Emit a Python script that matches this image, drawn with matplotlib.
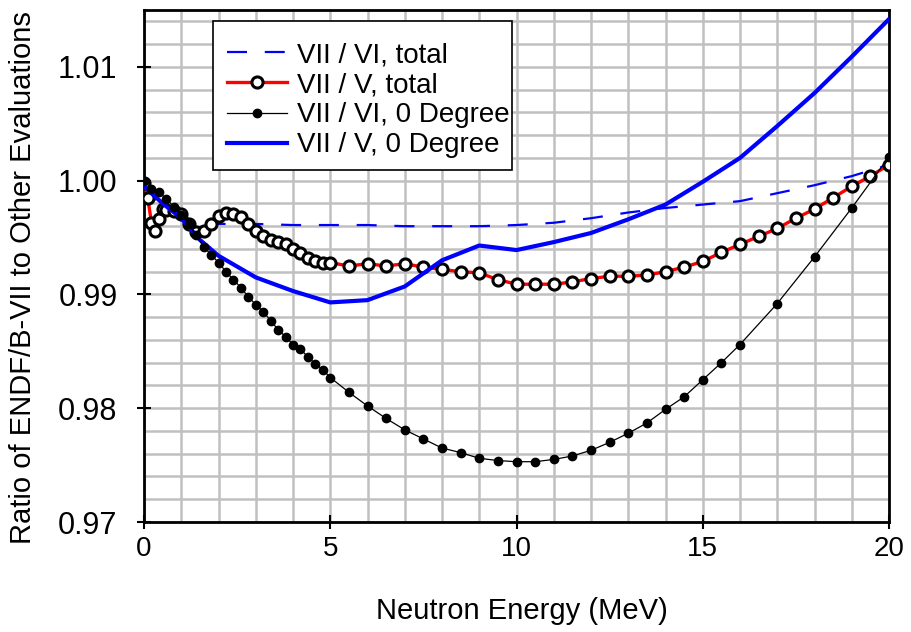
import matplotlib
matplotlib.use("Agg")
import matplotlib.pyplot as plt
from matplotlib.ticker import MultipleLocator, FormatStrFormatter
from matplotlib.patches import Rectangle

plt.rcParams['font.family'] = ['Liberation Sans', 'DejaVu Sans']

# VII / VI, total (blue dashed)
e_vi_tot = [0, 0.3, 0.6, 1, 1.5, 2, 3, 4, 5, 6, 7, 8, 9, 10, 11, 12, 13, 14, 15, 16, 17, 18, 19, 20]
r_vi_tot = [0.9997, 0.9983, 0.9975, 0.9969, 0.9964, 0.9962, 0.9962, 0.9961, 0.9961, 0.9961, 0.9960,
            0.9960, 0.9960, 0.9961, 0.9963, 0.9967, 0.9972, 0.9976, 0.9979, 0.9982, 0.9989, 0.9996,
            1.0004, 1.0014]

# VII / V, total (red line, open circles)
e_v_tot = [0.0, 0.1, 0.2, 0.3, 0.4, 0.5, 0.6, 0.8, 1.0, 1.2, 1.4, 1.6, 1.8, 2.0, 2.2, 2.4, 2.6, 2.8,
           3.0, 3.2, 3.4, 3.6, 3.8, 4.0, 4.2, 4.4, 4.6, 4.8, 5.0, 5.5, 6.0, 6.5, 7.0, 7.5, 8.0, 8.5,
           9.0, 9.5, 10.0, 10.5, 11.0, 11.5, 12.0, 12.5, 13.0, 13.5, 14.0, 14.5, 15.0, 15.5, 16.0,
           16.5, 17.0, 17.5, 18.0, 18.5, 19.0, 19.5, 20.0]
r_v_tot = [0.9998, 0.9985, 0.9963, 0.9956, 0.9966, 0.9975, 0.9974, 0.9973, 0.9971, 0.9962, 0.9955,
           0.9956, 0.9962, 0.9969, 0.9972, 0.9971, 0.9968, 0.9962, 0.9956, 0.9951, 0.9948, 0.9946,
           0.9944, 0.9940, 0.9936, 0.9932, 0.9929, 0.9928, 0.9928, 0.9925, 0.9927, 0.9925, 0.9927,
           0.9924, 0.9922, 0.9920, 0.9919, 0.9913, 0.9909, 0.9909, 0.9909, 0.9911, 0.9914, 0.9916,
           0.9916, 0.9917, 0.9920, 0.9924, 0.9929, 0.9937, 0.9944, 0.9951, 0.9958, 0.9967, 0.9975,
           0.9985, 0.9995, 1.0004, 1.0014]

# VII / VI, 0 Degree (black line, filled dots)
e_vi_0 = [0.0, 0.2, 0.4, 0.6, 0.8, 1.0, 1.2, 1.4, 1.6, 1.8, 2.0, 2.2, 2.4, 2.6, 2.8, 3.0, 3.2, 3.4,
          3.6, 3.8, 4.0, 4.2, 4.4, 4.6, 4.8, 5.0, 5.5, 6.0, 6.5, 7.0, 7.5, 8.0, 8.5, 9.0, 9.5, 10.0,
          10.5, 11.0, 11.5, 12.0, 12.5, 13.0, 13.5, 14.0, 14.5, 15.0, 15.5, 16.0, 17.0, 18.0, 19.0, 20.0]
r_vi_0 = [1.0000, 0.9993, 0.9990, 0.9984, 0.9977, 0.9970, 0.9962, 0.9952, 0.9942, 0.9935, 0.9928,
          0.9920, 0.9913, 0.9906, 0.9898, 0.9891, 0.9885, 0.9877, 0.9869, 0.9863, 0.9856, 0.9852,
          0.9845, 0.9839, 0.9834, 0.9827, 0.9814, 0.9802, 0.9791, 0.9781, 0.9773, 0.9765, 0.9761,
          0.9756, 0.9754, 0.9753, 0.9753, 0.9755, 0.9758, 0.9763, 0.9770, 0.9778, 0.9787, 0.9799,
          0.9810, 0.9825, 0.9840, 0.9856, 0.9892, 0.9933, 0.9976, 1.0021]

# VII / V, 0 Degree (blue solid)
e_v_0 = [0, 0.5, 1, 1.5, 2, 3, 4, 5, 6, 7, 8, 9, 10, 11, 12, 13, 14, 15, 16, 17, 18, 19, 20]
r_v_0 = [0.9995, 0.9980, 0.9967, 0.9948, 0.9934, 0.9915, 0.9903, 0.9893, 0.9895, 0.9907, 0.9930,
         0.9943, 0.9939, 0.9946, 0.9954, 0.9966, 0.9979, 0.9999, 1.0020, 1.0048, 1.0077, 1.0109,
         1.0142]

labels = ["VII / VI, total", "VII / V, total", "VII / VI, 0 Degree", "VII / V, 0 Degree"]

W, H = 911, 632
fig = plt.figure(figsize=(W / 100, H / 100), dpi=100)
ax = fig.add_axes([144 / W, 1 - 522 / H, (889 - 144) / W, (522 - 10) / H])

ax.set_xlim(0, 20)
ax.set_ylim(0.97, 1.015)

ax.xaxis.set_major_locator(MultipleLocator(5))
ax.xaxis.set_minor_locator(MultipleLocator(1))
ax.yaxis.set_major_locator(MultipleLocator(0.01))
ax.yaxis.set_minor_locator(MultipleLocator(0.002))
ax.yaxis.set_major_formatter(FormatStrFormatter('%.2f'))
ax.grid(True, which='both', color='#c0c0c0', linewidth=1.8)
ax.set_axisbelow(True)

ax.plot(e_vi_tot, r_vi_tot, color='#0000ff', linewidth=1.6, linestyle=(0, (9, 8)),
        label=labels[0], zorder=3)
ax.plot(e_v_tot, r_v_tot, color='#ff0000', linewidth=2.4, marker='o', markersize=8,
        markerfacecolor='white', markeredgecolor='black', markeredgewidth=2.2,
        label=labels[1], zorder=4)
ax.plot(e_vi_0, r_vi_0, color='black', linewidth=0.9, marker='o', markersize=6,
        markerfacecolor='black', markeredgecolor='black', label=labels[2], zorder=5)
ax.plot(e_v_0, r_v_0, color='#0000ff', linewidth=3.0, label=labels[3], zorder=4)

for s in ax.spines.values():
    s.set_color('black')
    s.set_linewidth(2.0)

ax.tick_params(axis='x', which='major', direction='inout', length=10, width=1.5, labelsize=20, pad=5)
ax.tick_params(axis='y', which='major', direction='inout', length=10, width=1.5, labelsize=22, pad=14)
ax.tick_params(which='minor', length=0)

ax.set_xlabel("Neutron Energy (MeV)", fontsize=21)
ax.xaxis.set_label_coords((522 - 144) / 745, (522 - 597) / 512)
ax.set_ylabel("Ratio of ENDF/B-VII to Other Evaluations", fontsize=21)
ax.yaxis.set_label_coords((37 - 144) / 745, (522 - 278) / 512)

# legend frame drawn explicitly at its place in the figure
frame = Rectangle((213 / W, 1 - 170 / H), (512 - 213) / W, (170 - 21) / H,
                  transform=fig.transFigure, facecolor='white', edgecolor='black',
                  linewidth=1.2, zorder=6)
ax.add_patch(frame)
frame.set_clip_on(False)

leg = ax.legend(loc='upper left', bbox_to_anchor=(227 / W, 1 - 42 / H), bbox_transform=fig.transFigure,
                fontsize=20, frameon=False, numpoints=1,
                handlelength=2.15, handletextpad=0.36, labelspacing=0.15, borderpad=0,
                borderaxespad=0)
leg.set_zorder(7)

fig.savefig("out.png", dpi=100)
